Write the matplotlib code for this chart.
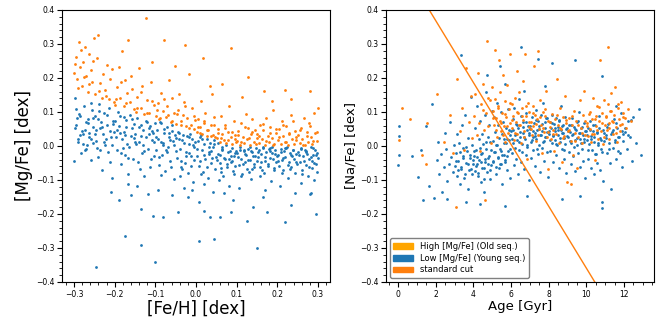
import matplotlib
matplotlib.use('Agg')
from matplotlib import pyplot as plt
from matplotlib.patches import Patch


# ---- left panel: [Fe/H] vs [Mg/Fe] ----
# low [Mg/Fe] (young sequence)
low_feh = [
    -0.298, -0.295, -0.291, -0.287, -0.283, -0.279, -0.276, -0.272, -0.268, -0.265, -0.262, -0.259, -0.256, -0.253, -0.299, -0.293, -0.285, -0.274, -0.266, -0.258, -0.252, -0.281,
    -0.248, -0.245, -0.241, -0.238, -0.236, -0.232, -0.229, -0.226, -0.223, -0.219, -0.216, -0.213, -0.21, -0.207, -0.204, -0.201, -0.243, -0.234, -0.221, -0.211, -0.246,
    -0.245, -0.21, -0.19,
    -0.198, -0.195, -0.191, -0.188, -0.185, -0.182, -0.178, -0.175, -0.172, -0.169, -0.166, -0.162, -0.159, -0.156, -0.153, -0.151, -0.193, -0.18, -0.167, -0.157, -0.174,
    -0.175, -0.16,
    -0.149, -0.146, -0.142, -0.139, -0.136, -0.133, -0.13, -0.127, -0.124, -0.121, -0.118, -0.115, -0.112, -0.109, -0.106, -0.103, -0.101, -0.144, -0.131, -0.119, -0.108,
    -0.135, -0.1, -0.135, -0.105,
    -0.099, -0.096, -0.093, -0.09, -0.087, -0.084, -0.081, -0.078, -0.075, -0.072, -0.069, -0.066, -0.063, -0.06, -0.057, -0.054, -0.051, -0.094, -0.082, -0.07, -0.059, -0.088,
    -0.08, -0.06, -0.045,
    -0.049, -0.046, -0.043, -0.04, -0.037, -0.034, -0.031, -0.028, -0.025, -0.022, -0.019, -0.016, -0.013, -0.01, -0.007, -0.004, -0.002, -0.041, -0.029, -0.017, -0.008, -0.035,
    -0.02, -0.01,
    0.002, 0.005, 0.008, 0.011, 0.014, 0.017, 0.02, 0.023, 0.026, 0.029, 0.032, 0.035, 0.038, 0.041, 0.044, 0.047, 0.049, 0.007, 0.019, 0.031, 0.043, 0.013,
    0.008, 0.045, 0.02, 0.035,
    0.052, 0.055, 0.058, 0.061, 0.064, 0.067, 0.07, 0.073, 0.076, 0.079, 0.082, 0.085, 0.088, 0.091, 0.094, 0.097, 0.099, 0.057, 0.069, 0.081, 0.093, 0.063,
    0.06, 0.085, 0.09,
    0.102, 0.105, 0.108, 0.111, 0.114, 0.117, 0.12, 0.123, 0.126, 0.129, 0.132, 0.135, 0.138, 0.141, 0.144, 0.147, 0.149, 0.107, 0.119, 0.131, 0.143,
    0.125, 0.15, 0.14,
    0.152, 0.155, 0.158, 0.161, 0.164, 0.167, 0.17, 0.173, 0.176, 0.179, 0.182, 0.185, 0.188, 0.191, 0.194, 0.197, 0.199, 0.157, 0.169, 0.181, 0.193,
    0.175, 0.165,
    0.202, 0.205, 0.208, 0.211, 0.214, 0.217, 0.22, 0.223, 0.226, 0.229, 0.232, 0.235, 0.238, 0.241, 0.244, 0.247, 0.249, 0.207, 0.219, 0.231, 0.243,
    0.22, 0.235,
    0.252, 0.255, 0.258, 0.261, 0.264, 0.267, 0.27, 0.273, 0.276, 0.279, 0.282, 0.285, 0.288, 0.291, 0.294, 0.297, 0.299, 0.259, 0.271, 0.283, 0.295, 0.298,
    0.28, 0.295, 0.29,
    # dense core
    -0.297, -0.289, -0.284, -0.277, -0.27, -0.263, -0.257, -0.294, -0.271, -0.254,
    -0.249, -0.242, -0.237, -0.231, -0.225, -0.218, -0.212, -0.206, -0.239, -0.203,
    -0.197, -0.19, -0.184, -0.177, -0.171, -0.164, -0.158, -0.152, -0.186, -0.168,
    -0.147, -0.141, -0.134, -0.128, -0.122, -0.116, -0.11, -0.104, -0.138, -0.113,
    -0.098, -0.091, -0.085, -0.079, -0.073, -0.067, -0.061, -0.055, -0.086, -0.064,
    -0.048, -0.042, -0.036, -0.03, -0.024, -0.018, -0.012, -0.006, -0.039, -0.015,
    0.003, 0.009, 0.015, 0.021, 0.027, 0.033, 0.039, 0.045, 0.012, 0.036,
    0.053, 0.059, 0.065, 0.071, 0.077, 0.083, 0.089, 0.095, 0.062, 0.086,
    0.103, 0.109, 0.115, 0.121, 0.127, 0.133, 0.139, 0.145, 0.112, 0.136,
    0.153, 0.159, 0.165, 0.171, 0.177, 0.183, 0.189, 0.195, 0.162, 0.186,
    0.203, 0.209, 0.215, 0.221, 0.227, 0.233, 0.239, 0.245, 0.212, 0.236,
    0.253, 0.259, 0.265, 0.271, 0.277, 0.283, 0.289, 0.295, 0.262, 0.286,
]
low_mgfe = [
    0.142, 0.061, 0.012, 0.094, -0.021, 0.035, 0.118, 0.048, 0.002, 0.079, 0.026, -0.041, 0.105, 0.057, -0.045, 0.083, 0.031, -0.012, 0.066, 0.127, 0.009, 0.043,
    0.088, 0.015, -0.032, 0.124, 0.052, -0.071, 0.036, 0.097, 0.004, 0.061, -0.018, 0.112, 0.027, -0.095, 0.074, 0.041, -0.006, 0.069, 0.021, -0.048, 0.046,
    -0.355, -0.135, -0.16,
    0.072, -0.013, 0.101, 0.038, -0.054, 0.019, 0.085, -0.028, 0.056, 0.007, -0.082, 0.091, 0.029, -0.039, 0.064, 0.013, 0.046, -0.005, -0.113, 0.078, 0.031,
    -0.265, -0.145,
    0.034, 0.081, -0.046, 0.012, 0.063, -0.021, 0.047, -0.087, 0.026, 0.071, -0.008, 0.052, -0.063, 0.018, 0.039, -0.031, 0.066, -0.118, 0.003, -0.142, 0.044,
    -0.29, -0.34, -0.185, -0.205,
    -0.012, 0.048, 0.021, -0.056, 0.067, -0.027, 0.009, 0.038, -0.074, 0.055, -0.004, 0.026, -0.043, 0.061, 0.014, -0.098, 0.032, -0.131, 0.002, -0.019, 0.045, 0.071,
    -0.21, -0.145, -0.195,
    0.024, -0.035, 0.041, -0.008, -0.062, 0.016, 0.033, -0.049, -0.017, 0.028, -0.081, 0.005, -0.029, 0.019, -0.106, -0.042, 0.011, 0.037, -0.124, -0.022, 0.002, -0.068,
    -0.15, -0.13,
    -0.031, 0.014, -0.058, 0.027, -0.012, -0.077, 0.006, -0.039, 0.021, -0.094, -0.023, 0.009, -0.051, -0.004, 0.017, -0.068, -0.033, -0.165, -0.112, -0.019, -0.136, 0.031,
    -0.28, -0.275, -0.19, -0.21,
    -0.042, 0.008, -0.027, -0.066, -0.011, -0.089, -0.035, 0.004, -0.053, -0.019, -0.118, -0.046, -0.007, -0.073, -0.029, -0.058, -0.014, -0.101, -0.138, -0.038, -0.084, -0.003,
    -0.21, -0.195, -0.16,
    -0.021, -0.056, -0.004, -0.038, -0.083, -0.012, -0.047, -0.026, -0.069, -0.009, -0.041, -0.097, -0.018, -0.031, -0.062, -0.006, -0.044, -0.125, -0.015, -0.076, -0.052,
    -0.22, -0.3, -0.18,
    -0.034, -0.011, -0.061, -0.025, -0.003, -0.079, -0.043, -0.017, -0.052, -0.008, -0.036, -0.104, -0.022, -0.065, -0.013, -0.047, -0.029, -0.088, -0.131, -0.005, -0.071,
    -0.195, -0.15,
    -0.027, -0.058, -0.009, -0.041, -0.072, -0.016, -0.033, -0.004, -0.094, -0.048, -0.021, -0.063, -0.012, -0.037, -0.081, -0.024, -0.052, -0.117, -0.006, -0.068, -0.139,
    -0.225, -0.175,
    -0.019, -0.046, -0.007, -0.071, -0.031, -0.013, -0.057, -0.024, -0.088, -0.039, -0.003, -0.064, -0.028, -0.049, -0.011, -0.076, -0.035, -0.109, -0.015, -0.138, -0.053, -0.021,
    -0.14, -0.2, -0.1,
    # dense core
    0.052, 0.021, 0.088, 0.007, 0.071, 0.039, 0.019, 0.108, -0.008, 0.083,
    0.034, 0.078, -0.011, 0.057, 0.011, 0.091, 0.044, 0.002, 0.103, 0.064,
    0.026, 0.058, -0.021, 0.041, 0.077, -0.002, 0.052, 0.022, 0.089, -0.035,
    0.005, 0.056, 0.028, -0.015, 0.074, 0.034, -0.038, 0.011, -0.067, 0.059,
    0.027, -0.033, 0.012, 0.051, -0.011, 0.039, -0.062, 0.004, -0.085, 0.017,
    -0.014, 0.021, -0.045, 0.009, -0.031, 0.026, -0.058, -0.002, -0.089, 0.034,
    -0.008, -0.044, 0.019, -0.026, -0.061, -0.004, -0.035, 0.007, -0.082, -0.016,
    -0.024, -0.051, -0.008, -0.037, -0.062, -0.015, -0.043, -0.021, -0.077, -0.031,
    -0.033, -0.011, -0.054, -0.024, -0.041, -0.003, -0.067, -0.029, -0.087, -0.016,
    -0.019, -0.046, -0.007, -0.032, -0.058, -0.014, -0.039, -0.024, -0.072, -0.002,
    -0.044, -0.018, -0.035, -0.006, -0.055, -0.027, -0.012, -0.046, -0.079, -0.031,
    -0.028, -0.009, -0.043, -0.017, -0.061, -0.034, -0.005, -0.026, -0.083, -0.045,
]

# high [Mg/Fe] (old sequence)
high_feh = [
    -0.299, -0.296, -0.292, -0.288, -0.284, -0.28, -0.277, -0.273, -0.27, -0.266, -0.262, -0.258, -0.255, -0.251,
    -0.248, -0.244, -0.24, -0.236, -0.232, -0.228, -0.224, -0.219, -0.215, -0.211, -0.206, -0.202,
    -0.198, -0.194, -0.19, -0.186, -0.182, -0.178, -0.174, -0.17, -0.166, -0.162, -0.158, -0.153,
    -0.148, -0.144, -0.14, -0.136, -0.132, -0.128, -0.124, -0.12, -0.116, -0.111, -0.107, -0.102,
    -0.098, -0.094, -0.09, -0.086, -0.082, -0.078, -0.074, -0.07, -0.066, -0.062, -0.058, -0.054, -0.051,
    -0.049, -0.045, -0.041, -0.037, -0.033, -0.029, -0.025, -0.021, -0.017, -0.013, -0.009, -0.005, -0.002, -0.026,
    0.002, 0.006, 0.009, 0.013, 0.016, 0.02, 0.023, 0.027, 0.03, 0.034, 0.037, 0.041, 0.044, 0.048, 0.018, 0.039,
    0.051, 0.054, 0.058, 0.061, 0.065, 0.068, 0.072, 0.075, 0.079, 0.082, 0.086, 0.089, 0.093, 0.096, 0.099, 0.063, 0.085,
    0.101, 0.104, 0.108, 0.111, 0.115, 0.118, 0.122, 0.125, 0.129, 0.132, 0.136, 0.139, 0.143, 0.146, 0.149, 0.113, 0.127,
    0.151, 0.155, 0.158, 0.162, 0.165, 0.169, 0.172, 0.176, 0.179, 0.183, 0.186, 0.19, 0.193, 0.197, 0.168, 0.188,
    0.201, 0.205, 0.208, 0.212, 0.215, 0.219, 0.222, 0.226, 0.229, 0.233, 0.236, 0.24, 0.243, 0.247, 0.218, 0.235,
    0.251, 0.255, 0.258, 0.262, 0.265, 0.269, 0.272, 0.276, 0.279, 0.283, 0.286, 0.29, 0.293, 0.297, 0.299, 0.281,
    # near the dividing line
    -0.297, -0.29, -0.282, -0.275, -0.264, -0.253, -0.238, -0.222,
    -0.196, -0.184, -0.172, -0.16, -0.146, -0.134, -0.121, -0.109,
    -0.096, -0.088, -0.079, -0.068, -0.059, -0.047, -0.038, -0.027, -0.016, -0.006,
    0.004, 0.011, 0.019, 0.028, 0.036, 0.045, 0.053, 0.062, 0.071, 0.079, 0.088, 0.097,
    0.103, 0.112, 0.121, 0.13, 0.138, 0.147, 0.156, 0.164, 0.173, 0.181, 0.19, 0.198,
    0.204, 0.213, 0.221, 0.23, 0.238, 0.246, 0.255, 0.263, 0.272, 0.28, 0.289, 0.297,
]
high_mgfe = [
    0.215, 0.262, 0.198, 0.305, 0.231, 0.176, 0.248, 0.292, 0.207, 0.159, 0.271, 0.224, 0.187, 0.318,
    0.152, 0.258, 0.327, 0.184, 0.141, 0.211, 0.165, 0.238, 0.137, 0.196, 0.225, 0.129,
    0.121, 0.173, 0.232, 0.142, 0.278, 0.118, 0.195, 0.156, 0.313, 0.128, 0.167, 0.108,
    0.101, 0.145, 0.228, 0.112, 0.176, 0.093, 0.375, 0.134, 0.098, 0.189, 0.248, 0.121,
    0.088, 0.127, 0.079, 0.155, 0.102, 0.313, 0.084, 0.118, 0.193, 0.071, 0.142, 0.098, 0.235,
    0.064, 0.105, 0.153, 0.072, 0.091, 0.128, 0.058, 0.083, 0.212, 0.061, 0.112, 0.049, 0.076, 0.296,
    0.042, 0.078, 0.055, 0.131, 0.036, 0.067, 0.098, 0.029, 0.047, 0.175, 0.061, 0.033, 0.084, 0.025, 0.258, 0.152,
    0.022, 0.051, 0.013, 0.087, 0.034, 0.018, 0.063, 0.009, 0.041, 0.118, 0.026, 0.005, 0.072, 0.031, 0.012, 0.182, 0.289,
    0.015, 0.043, 0.004, 0.068, 0.027, 0.009, 0.095, 0.021, 0.052, 0.003, 0.034, 0.078, 0.012, 0.046, 0.024, 0.143, 0.204,
    0.036, 0.008, 0.061, 0.019, 0.047, 0.002, 0.083, 0.028, 0.011, 0.055, 0.024, 0.106, 0.006, 0.039, 0.163, 0.132,
    0.017, 0.049, 0.005, 0.072, 0.028, 0.013, 0.058, 0.002, 0.038, 0.091, 0.021, 0.007, 0.044, 0.026, 0.165, 0.138,
    0.031, 0.008, 0.054, 0.019, 0.083, 0.003, 0.041, 0.012, 0.067, 0.025, 0.006, 0.098, 0.037, 0.015, 0.112, 0.162,
    # near the dividing line
    0.241, 0.169, 0.283, 0.203, 0.181, 0.249, 0.162, 0.147,
    0.139, 0.187, 0.126, 0.205, 0.113, 0.158, 0.097, 0.132,
    0.107, 0.081, 0.138, 0.091, 0.074, 0.095, 0.061, 0.118, 0.052, 0.089,
    0.057, 0.039, 0.072, 0.048, 0.028, 0.061, 0.038, 0.024, 0.053, 0.017, 0.042, 0.021,
    0.031, 0.012, 0.056, 0.022, 0.041, 0.007, 0.029, 0.064, 0.015, 0.037, 0.004, 0.051,
    0.025, 0.062, 0.011, 0.036, 0.074, 0.018, 0.047, 0.003, 0.029, 0.058, 0.014, 0.042,
]

# ---- right panel: Age vs [Na/Fe] ----
low_age = [
    0.02, 0.04, 0.03, 0.01, 0.72,
    1.05, 1.22, 1.31, 1.48, 1.62, 1.79, 1.93,
    2.04, 2.11, 2.19, 2.27, 2.33, 2.41, 2.48, 2.55, 2.62, 2.69, 2.76, 2.83, 2.9, 2.96, 2.58,
    3.02, 3.06, 3.11, 3.15, 3.2, 3.24, 3.29, 3.33, 3.38, 3.42, 3.47, 3.51, 3.55, 3.6, 3.64, 3.69, 3.73, 3.77, 3.82, 3.86, 3.9, 3.95, 3.98, 3.36, 3.58,
    4.03, 4.06, 4.1, 4.13, 4.17, 4.2, 4.24, 4.27, 4.31, 4.34, 4.38, 4.41, 4.45, 4.48, 4.52, 4.55, 4.59, 4.62, 4.66, 4.69, 4.73, 4.76, 4.8, 4.83, 4.87, 4.9, 4.94, 4.97, 4.35, 4.71,
    5.02, 5.05, 5.08, 5.12, 5.15, 5.18, 5.21, 5.25, 5.28, 5.31, 5.34, 5.38, 5.41, 5.44, 5.47, 5.5, 5.53, 5.57, 5.6, 5.63, 5.66, 5.7, 5.73, 5.76, 5.79, 5.83, 5.86, 5.89, 5.92, 5.96, 5.43, 5.68,
    6.02, 6.05, 6.09, 6.12, 6.15, 6.18, 6.22, 6.25, 6.28, 6.31, 6.35, 6.38, 6.41, 6.44, 6.48, 6.51, 6.54, 6.57, 6.61, 6.64, 6.67, 6.7, 6.74, 6.77, 6.8, 6.83, 6.87, 6.9, 6.93, 6.96, 6.52, 6.85,
    7.02, 7.05, 7.08, 7.12, 7.15, 7.18, 7.21, 7.25, 7.28, 7.31, 7.34, 7.38, 7.41, 7.44, 7.47, 7.5, 7.53, 7.57, 7.6, 7.63, 7.66, 7.7, 7.73, 7.76, 7.79, 7.83, 7.86, 7.89, 7.92, 7.96, 7.45, 7.81,
    8.02, 8.05, 8.08, 8.12, 8.15, 8.18, 8.21, 8.25, 8.28, 8.31, 8.34, 8.38, 8.41, 8.44, 8.47, 8.5, 8.53, 8.57, 8.6, 8.63, 8.66, 8.7, 8.73, 8.76, 8.79, 8.83, 8.86, 8.89, 8.92, 8.96, 8.18, 8.72,
    9.03, 9.06, 9.1, 9.13, 9.17, 9.2, 9.24, 9.27, 9.31, 9.34, 9.38, 9.41, 9.45, 9.48, 9.52, 9.55, 9.59, 9.62, 9.66, 9.69, 9.73, 9.76, 9.8, 9.83, 9.87, 9.9, 9.94, 9.97, 9.42, 9.65,
    10.03, 10.07, 10.11, 10.15, 10.19, 10.23, 10.27, 10.31, 10.35, 10.39, 10.43, 10.47, 10.51, 10.55, 10.59, 10.63, 10.67, 10.71, 10.75, 10.79, 10.83, 10.87, 10.91, 10.95, 10.82, 10.84,
    11.04, 11.1, 11.16, 11.22, 11.28, 11.34, 11.4, 11.46, 11.52, 11.58, 11.64, 11.7, 11.76, 11.82, 11.88, 11.94, 11.3, 11.6,
    12.05, 12.14, 12.23, 12.31, 12.42, 12.5, 12.63, 12.78, 12.9,
    # young low blob
    3.05, 3.18, 3.27, 3.35, 3.44, 3.53, 3.62, 3.71, 3.8, 3.89, 3.97, 4.05, 4.12, 4.19, 4.26, 4.33, 4.4, 4.47, 4.54, 4.61,
    4.68, 4.75, 4.82, 4.89, 4.96, 5.04, 5.11, 5.18, 5.25, 5.32, 5.39, 5.46, 5.53, 5.6, 5.67, 5.74, 5.81, 5.88, 5.95, 4.58,
    # old band
    6.04, 6.11, 6.19, 6.26, 6.34, 6.41, 6.49, 6.56, 6.64, 6.71, 6.79, 6.86, 6.94,
    7.03, 7.1, 7.18, 7.25, 7.33, 7.4, 7.48, 7.55, 7.63, 7.7, 7.78, 7.85, 7.93,
    8.02, 8.09, 8.17, 8.24, 8.32, 8.39, 8.47, 8.54, 8.62, 8.69, 8.77, 8.84, 8.92, 8.99,
    9.04, 9.11, 9.19, 9.26, 9.34, 9.41, 9.49, 9.56, 9.64, 9.71, 9.79, 9.86, 9.94,
    10.03, 10.1, 10.18, 10.25, 10.33, 10.4, 10.48, 10.55, 10.63, 10.7, 10.78, 10.85, 10.93,
    11.02, 11.12, 11.21, 11.31, 11.4, 11.5, 11.59, 11.69, 11.78, 11.88, 11.97, 12.08, 12.2, 12.35,
]
low_nafe = [
    0.058, 0.028, -0.028, -0.056, -0.03,
    -0.09, -0.012, -0.158, 0.06, -0.118, 0.124, -0.152,
    -0.041, 0.012, -0.082, -0.025, -0.135, -0.061, 0.038, -0.009, -0.104, -0.052, 0.071, -0.033, -0.078, 0.002, -0.155,
    -0.058, -0.021, 0.034, -0.089, -0.043, 0.008, -0.112, -0.067, 0.061, -0.029, -0.005, -0.094, 0.092, -0.049, -0.015, -0.128, 0.024, -0.072, -0.036, 0.143, -0.082, 0.003, -0.054, 0.268, -0.165,
    -0.031, 0.052, -0.074, -0.012, 0.118, -0.053, -0.088, 0.019, -0.041, 0.074, -0.107, -0.023, 0.035, -0.064, 0.006, -0.136, 0.091, -0.046, -0.009, 0.158, -0.078, 0.027, -0.035, 0.063, -0.096, 0.011, -0.057, 0.104, -0.172, 0.21,
    0.015, -0.048, 0.086, -0.019, 0.042, -0.082, 0.003, 0.127, -0.034, 0.061, -0.065, 0.024, -0.008, 0.099, -0.052, 0.036, -0.113, 0.071, -0.026, 0.008, 0.183, -0.041, 0.054, -0.071, 0.019, 0.109, -0.014, 0.047, -0.095, 0.031, 0.235, -0.178,
    0.043, -0.021, 0.078, 0.009, -0.056, 0.112, 0.031, -0.038, 0.064, 0.017, -0.084, 0.052, 0.138, -0.012, 0.026, 0.089, -0.047, 0.005, 0.071, 0.038, -0.069, 0.161, 0.021, -0.028, 0.096, 0.047, -0.004, 0.059, -0.101, 0.033, 0.291, -0.148,
    0.051, 0.012, -0.036, 0.084, 0.027, -0.011, 0.066, 0.038, -0.058, 0.105, 0.019, 0.047, -0.024, 0.073, 0.004, 0.058, -0.077, 0.032, 0.091, -0.006, 0.044, 0.127, 0.015, -0.043, 0.069, 0.025, 0.082, -0.019, 0.041, -0.092, 0.255, 0.176,
    0.036, 0.071, -0.014, 0.053, 0.008, 0.092, 0.029, -0.047, 0.064, 0.017, 0.044, -0.028, 0.081, 0.002, 0.057, 0.033, -0.066, 0.075, 0.011, 0.048, 0.118, -0.009, 0.039, 0.062, -0.037, 0.024, 0.086, 0.006, -0.081, 0.052, 0.243, -0.155,
    0.027, -0.018, 0.062, 0.041, -0.052, 0.009, 0.083, 0.034, -0.031, 0.056, 0.016, -0.074, 0.047, 0.003, 0.071, -0.022, 0.038, 0.099, -0.061, 0.021, 0.054, -0.008, 0.032, -0.043, 0.067, 0.012, -0.095, 0.045, 0.252, -0.148,
    0.018, 0.052, -0.037, 0.006, 0.074, -0.064, 0.029, -0.012, 0.043, -0.083, 0.011, 0.061, -0.025, 0.037, -0.049, 0.002, 0.087, -0.071, 0.024, -0.008, 0.205, -0.103, 0.046, 0.014, -0.165, -0.182,
    0.031, -0.022, 0.064, 0.008, -0.051, 0.042, -0.006, 0.079, 0.016, -0.038, 0.053, -0.014, 0.025, 0.097, -0.062, 0.036, -0.127, 0.118,
    0.041, -0.008, 0.072, 0.025, -0.043, 0.084, 0.009, 0.108, -0.026,
    # young low blob
    -0.045, -0.072, -0.018, -0.061, -0.035, -0.083, -0.004, -0.052, -0.027, -0.069, -0.041, -0.015, -0.058, -0.033, -0.079, -0.006, -0.047, -0.022, -0.065, -0.038,
    0.012, -0.054, -0.029, -0.071, -0.011, -0.043, -0.019, -0.062, 0.004, -0.036, -0.052, -0.014, -0.027, 0.021, -0.048, 0.008, -0.031, 0.017, -0.009, -0.097,
    # old band
    0.021, 0.047, -0.006, 0.034, 0.062, 0.013, 0.041, -0.019, 0.055, 0.026, 0.071, 0.004, 0.038,
    0.058, 0.017, 0.044, 0.029, 0.076, -0.008, 0.049, 0.033, 0.064, 0.012, 0.052, 0.025, 0.081,
    0.043, 0.018, 0.067, 0.031, 0.054, 0.006, 0.046, 0.072, 0.023, 0.059, 0.037, -0.012, 0.049, 0.028,
    0.044, 0.015, 0.063, 0.032, -0.004, 0.051, 0.024, 0.074, 0.039, 0.008, 0.056, 0.021, 0.045,
    0.033, -0.011, 0.048, 0.019, 0.062, 0.027, -0.024, 0.041, 0.009, 0.053, 0.016, -0.018, 0.037,
    0.022, 0.057, -0.009, 0.034, 0.048, 0.011, 0.066, 0.027, -0.021, 0.043, 0.014, 0.052, 0.031, 0.076,
]
high_age = [
    0.02, 0.18, 0.62, 1.28, 1.47, 1.52, 2.08, 2.41, 2.75, 2.9,
    3.08, 3.12, 3.27, 3.41, 3.52, 3.63, 3.74, 3.86, 3.95,
    4.04, 4.1, 4.17, 4.23, 4.3, 4.36, 4.42, 4.49, 4.55, 4.61, 4.68, 4.74, 4.8, 4.87, 4.93, 4.98,
    5.03, 5.07, 5.12, 5.16, 5.21, 5.25, 5.3, 5.34, 5.39, 5.43, 5.48, 5.52, 5.57, 5.61, 5.66, 5.7, 5.75, 5.79, 5.84, 5.88, 5.93, 5.97,
    6.03, 6.07, 6.12, 6.16, 6.21, 6.25, 6.3, 6.34, 6.39, 6.43, 6.48, 6.52, 6.57, 6.61, 6.66, 6.7, 6.75, 6.79, 6.84, 6.88, 6.93, 6.97,
    7.04, 7.09, 7.14, 7.19, 7.24, 7.29, 7.34, 7.39, 7.44, 7.49, 7.54, 7.59, 7.64, 7.69, 7.74, 7.79, 7.84, 7.89, 7.94, 7.98,
    8.05, 8.11, 8.16, 8.22, 8.27, 8.33, 8.38, 8.44, 8.5, 8.55, 8.61, 8.66, 8.72, 8.77, 8.83, 8.88, 8.94, 8.98,
    9.04, 9.1, 9.16, 9.22, 9.28, 9.34, 9.4, 9.46, 9.52, 9.58, 9.64, 9.7, 9.76, 9.82, 9.88, 9.94, 9.21,
    10.04, 10.09, 10.14, 10.19, 10.24, 10.29, 10.34, 10.39, 10.44, 10.49, 10.54, 10.59, 10.64, 10.69, 10.74, 10.79, 10.84, 10.89, 10.94, 10.98,
    11.03, 11.08, 11.13, 11.18, 11.23, 11.28, 11.33, 11.38, 11.43, 11.48, 11.53, 11.58, 11.63, 11.68, 11.73, 11.78, 11.83, 11.88, 11.93, 11.14,
    12.03, 12.12, 12.21, 12.35,
    # core
    5.06, 5.19, 5.31, 5.44, 5.56, 5.69, 5.81, 5.94, 6.06, 6.19, 6.31, 6.44, 6.56, 6.69, 6.81, 6.94,
    7.06, 7.19, 7.31, 7.44, 7.56, 7.69, 7.81, 7.94, 8.08, 8.25, 8.42, 8.58, 8.75, 8.92,
    9.08, 9.25, 9.42, 9.58, 9.75, 9.92, 10.06, 10.19, 10.31, 10.44, 10.56, 10.69, 10.81, 10.94,
    11.06, 11.19, 11.31, 11.44, 11.56, 11.69, 11.81, 11.94, 4.52, 4.78,
]
high_nafe = [
    0.016, 0.112, 0.078, -0.027, -0.053, 0.067, 0.152, 0.013, 0.092, -0.021,
    -0.179, 0.196, 0.043, 0.112, -0.012, 0.228, 0.071, 0.148, 0.022,
    0.087, 0.152, 0.031, 0.214, 0.068, -0.015, 0.124, 0.183, 0.046, -0.158, 0.097, 0.308, 0.059, 0.135, 0.008, 0.172,
    0.104, 0.062, 0.283, 0.138, 0.081, 0.027, 0.117, 0.253, 0.073, 0.159, 0.045, 0.096, 0.209, 0.058, 0.132, 0.012, 0.085, 0.178, 0.039, 0.108, 0.271, 0.067,
    0.052, 0.124, 0.087, 0.018, 0.141, 0.069, 0.221, 0.034, 0.096, 0.158, 0.061, 0.008, 0.113, 0.075, 0.192, 0.043, 0.269, 0.089, -0.038, 0.127, 0.056, 0.101,
    0.071, 0.033, 0.118, 0.058, 0.236, 0.092, 0.014, 0.078, 0.279, 0.049, 0.136, 0.063, -0.022, 0.101, 0.042, 0.087, 0.163, 0.027, 0.074, -0.068,
    0.056, 0.021, 0.094, 0.047, -0.015, 0.078, 0.035, 0.198, 0.062, 0.009, 0.113, 0.051, -0.048, 0.084, 0.029, 0.147, 0.066, -0.105,
    0.043, 0.082, 0.015, 0.061, -0.028, 0.104, 0.037, 0.072, -0.064, 0.025, 0.135, 0.053, 0.008, 0.091, 0.162, 0.031, -0.112,
    0.067, 0.028, 0.095, 0.051, 0.012, 0.079, 0.142, 0.036, -0.041, 0.088, 0.059, 0.118, 0.021, 0.073, 0.252, 0.044, 0.098, 0.006, 0.134, 0.062,
    0.085, 0.047, 0.122, 0.068, 0.019, 0.103, 0.156, 0.074, 0.035, 0.091, 0.172, 0.056, 0.011, 0.113, 0.079, 0.043, 0.128, 0.064, 0.097, 0.29,
    0.081, 0.052, 0.109, 0.072,
    # core
    0.083, 0.046, 0.112, 0.067, 0.031, 0.094, 0.058, 0.125, 0.075, 0.039, 0.101, 0.062, 0.088, 0.027, 0.117, 0.071,
    0.049, 0.096, 0.064, 0.032, 0.085, 0.052, 0.108, 0.041, 0.069, 0.036, 0.091, 0.054, 0.023, 0.077,
    0.046, 0.088, 0.015, 0.063, 0.039, 0.072, 0.058, 0.101, 0.034, 0.079, 0.048, 0.115, 0.066, 0.027,
    0.089, 0.054, 0.104, 0.071, 0.038, 0.122, 0.062, 0.085, 0.105, 0.141,
]

# standard cut line (two end points)
cut_age = [0.0, 14.0]
cut_nafe = [0.55, -0.723]

labels = ['High [Mg/Fe] (Old seq.)', 'Low [Mg/Fe] (Young seq.)', 'standard cut']

fig = plt.figure(figsize=(6.62, 3.2), dpi=100)
ax1 = fig.add_axes([0.094, 0.119, 0.404, 0.85])
ax2 = fig.add_axes([0.583, 0.119, 0.405, 0.85])

ax1.scatter(low_feh, low_mgfe, s=4, color='tab:blue', linewidths=0)
ax1.scatter(high_feh, high_mgfe, s=4, color='tab:orange', linewidths=0)
ax1.set_ylim(-0.4, 0.4)
ax1.set_xlabel('[Fe/H] [dex]', fontsize=12, labelpad=1)
ax1.set_ylabel('[Mg/Fe] [dex]', fontsize=12, labelpad=2)

ax2.scatter(low_age, low_nafe, s=4, color='tab:blue', linewidths=0)
ax2.scatter(high_age, high_nafe, s=4, color='tab:orange', linewidths=0)
ax2.plot(cut_age, cut_nafe, color='tab:orange', lw=1)
ax2.set_xlim(-0.65, 13.6)
ax2.set_ylim(-0.4, 0.4)
ax2.set_xlabel('Age [Gyr]', fontsize=9.5, labelpad=1)
ax2.set_ylabel('[Na/Fe] [dex]', fontsize=9.5, labelpad=2)

handles = [Patch(color='orange'), Patch(color='tab:blue'), Patch(color='tab:orange')]
ax2.legend(handles, labels, loc='lower left', fontsize=6, handlelength=2.4,
           framealpha=1, edgecolor='0.5', borderpad=0.4, labelspacing=0.35)

for ax in (ax1, ax2):
    ax.minorticks_on()
    ax.tick_params(which='major', labelsize=5.5, length=3.5, width=0.8, pad=2)
    ax.tick_params(which='minor', length=2, width=0.6)
    ax.set_yticks([-0.4, -0.3, -0.2, -0.1, 0.0, 0.1, 0.2, 0.3, 0.4])

plt.savefig('out.png', dpi=100)
